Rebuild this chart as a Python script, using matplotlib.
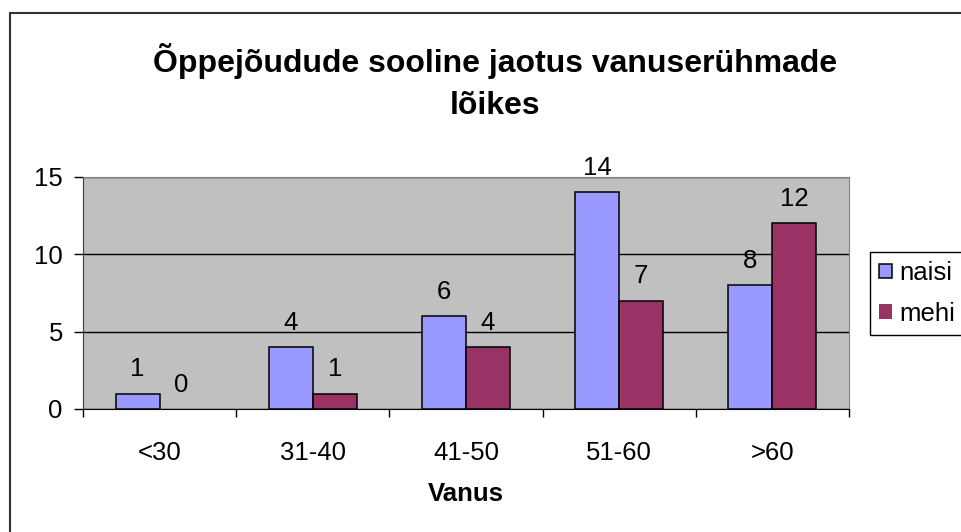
import matplotlib
matplotlib.use("Agg")
import matplotlib.pyplot as plt
import matplotlib.patches as patches
import numpy as np

plt.rcParams['font.family'] = ['Liberation Sans', 'DejaVu Sans']

# data
categories = ["<30", "31-40", "41-50", "51-60", ">60"]
naisi = [1, 4, 6, 14, 8]
mehi = [0, 1, 4, 7, 12]
series_names = ["naisi", "mehi"]
title = "Õppejõudude sooline jaotus vanuserühmade\nlõikes"

W, H = 961, 532
fig = plt.figure(figsize=(W / 100, H / 100), dpi=100)

# outer chart border (only left and top visible)
fig.add_artist(patches.Rectangle((10 / W, -0.1), 1.2, (H - 13) / H + 0.1,
                                 transform=fig.transFigure, fill=False,
                                 edgecolor="#333333", linewidth=1.5))

left, right, top, bottom = 83, 849, 177, 409
ax = fig.add_axes([left / W, (H - bottom) / H, (right - left) / W, (bottom - top) / H])
ax.set_facecolor("#C0C0C0")

x = np.arange(len(categories))
bw = 0.2875
b1 = ax.bar(x - bw / 2, naisi, bw, color="#9999FF", edgecolor="black", linewidth=1.1,
            label=series_names[0], zorder=3)
b2 = ax.bar(x + bw / 2, mehi, bw, color="#993366", edgecolor="black", linewidth=1.1,
            label=series_names[1], zorder=3)
for bars in (b1, b2):
    for r in bars:
        if r.get_height() == 0:
            r.set_linewidth(0)
    ax.bar_label(bars, padding=9, fontsize=18.5)

ax.set_xlim(-0.5, len(categories) - 0.5)
ax.set_ylim(0, 15)
ax.set_yticks([0, 5, 10, 15])
ax.yaxis.grid(True, color="black", linewidth=1, zorder=0)
ax.set_axisbelow(True)
ax.tick_params(axis="y", labelsize=18.5, length=6.5, width=1, pad=8)

# category boundaries as ticks, labels in between
ax.set_xticks(np.arange(len(categories) + 1) - 0.5)
ax.set_xticklabels([])
ax.tick_params(axis="x", which="major", length=6, width=1, direction="out")
ax.set_xticks(x, minor=True)
ax.set_xticklabels(categories, minor=True)
ax.tick_params(axis="x", which="minor", length=0, labelsize=18.5, pad=23)

for s in ("top", "right"):
    ax.spines[s].set_color("#808080")
ax.spines["left"].set_color("#404040")
ax.spines["bottom"].set_color("black")

ax.set_xlabel("Vanus", fontsize=18.5, fontweight="bold", labelpad=12)

fig.text(0.515, (H - 82) / H, title, ha="center", va="center", fontsize=23,
         fontweight="bold", linespacing=1.5)

fig.legend(handles=[b1, b2], loc="upper left",
           bbox_to_anchor=(870 / W, (H - 252) / H, 150 / W, 0.0),
           mode="expand", fontsize=18.5, frameon=True, fancybox=False,
           edgecolor="black", framealpha=1, borderpad=0.35,
           handlelength=0.5, handleheight=0.5, handletextpad=0.3,
           labelspacing=0.65, borderaxespad=0)

fig.savefig("out.png", dpi=100)
